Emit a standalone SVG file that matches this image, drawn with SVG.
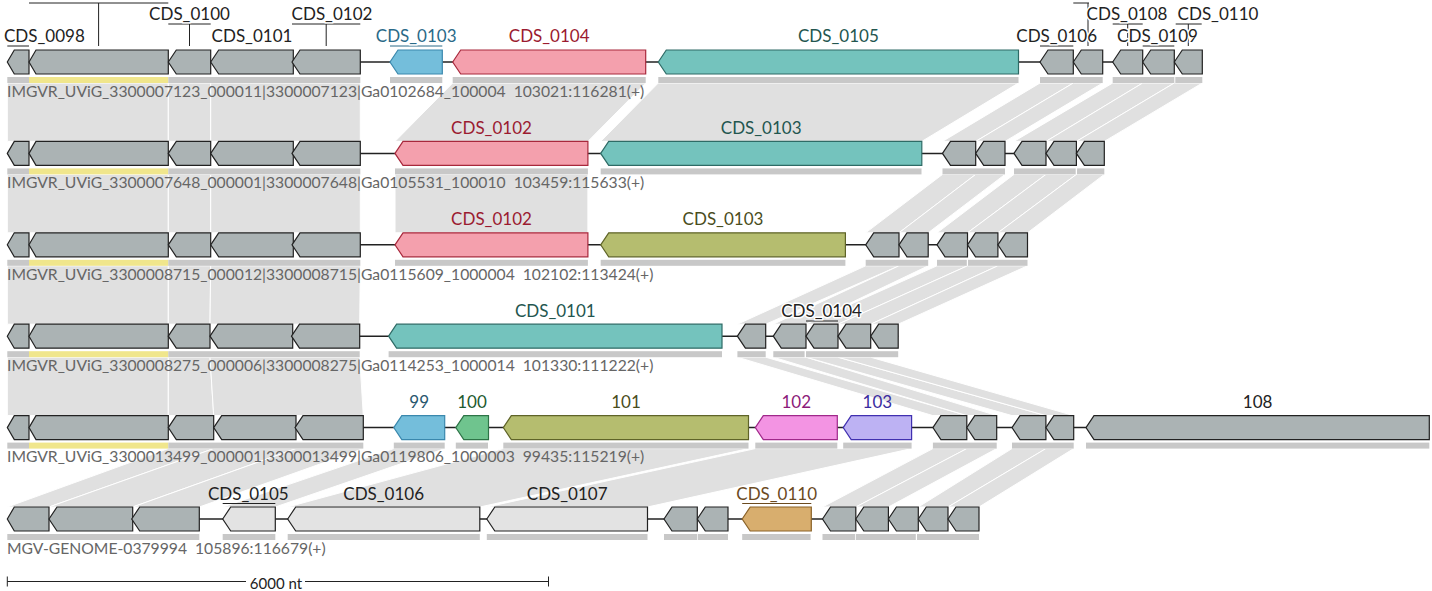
<svg xmlns="http://www.w3.org/2000/svg" width="1432" height="591" viewBox="0 0 1432 591">
<style>
.bg{fill:#fff}
.sh{fill:#e0e0e0;stroke:#fff;stroke-width:1}
.bb{stroke:#222;stroke-width:1.5;fill:none}
.g{stroke:#222;stroke-width:1.2;stroke-linejoin:miter}
.gray{fill:#abb3b4}
.lt{fill:#e3e3e3}
.blue{fill:#74bedb;stroke:#3a88ad}
.pink{fill:#f4a0ad;stroke:#a8283c}
.teal{fill:#74c3bd;stroke:#2e6b66}
.olive{fill:#b5bd6f;stroke:#5f6428}
.green{fill:#6fc48e;stroke:#2e7447}
.mag{fill:#f394e3;stroke:#a0288a}
.lav{fill:#bdb2f3;stroke:#4030b0}
.orng{fill:#d8ae6e;stroke:#8a6228}
.bar{fill:#c8c8c8}
.ybar{fill:#f0e68c}
.lab{font-family:Lato,"Noto Sans",sans-serif;font-size:17px;text-anchor:middle;paint-order:stroke;stroke:#fff;stroke-width:3px;stroke-linejoin:round}
.nh{stroke:none}
.trk{font-family:Lato,"Noto Sans",sans-serif;font-size:15.7px;fill:#666;white-space:pre}
.ln{stroke:#222;stroke-width:1;fill:none}
</style>
<rect class="bg" x="0" y="0" width="1432" height="591"/>
<g id="connectors">
<polygon class="sh" points="7.3,83 168.3,83 168.3,141.4 7.3,141.4"/>
<polygon class="sh" points="168.3,83 210.7,83 210.7,141.4 168.3,141.4"/>
<polygon class="sh" points="210.7,83 360.3,83 360.3,141.4 210.7,141.4"/>
<polygon class="sh" points="452.7,83 645.7,83 587.9,141.4 395,141.4"/>
<polygon class="sh" points="658.3,83 1018.5,83 921.8,141.4 600.7,141.4"/>
<polygon class="sh" points="1040,83 1073.3,83 975.7,141.4 942.5,141.4"/>
<polygon class="sh" points="1073.3,83 1102.7,83 1005,141.4 975.7,141.4"/>
<polygon class="sh" points="1112.7,83 1142.7,83 1046,141.4 1014,141.4"/>
<polygon class="sh" points="1142.7,83 1174.3,83 1076.4,141.4 1046,141.4"/>
<polygon class="sh" points="1174.3,83 1202.3,83 1104.3,141.4 1076.4,141.4"/>
<polygon class="sh" points="7.3,174.4 168.3,174.4 168.3,232.8 7.3,232.8"/>
<polygon class="sh" points="168.3,174.4 210.7,174.4 210.7,232.8 168.3,232.8"/>
<polygon class="sh" points="210.7,174.4 360.3,174.4 360.3,232.8 210.7,232.8"/>
<polygon class="sh" points="395,174.4 587.9,174.4 587.9,232.8 395,232.8"/>
<polygon class="sh" points="942.5,174.4 975.7,174.4 899,232.8 865.7,232.8"/>
<polygon class="sh" points="975.7,174.4 1005,174.4 928.2,232.8 899,232.8"/>
<polygon class="sh" points="1014,174.4 1046,174.4 967.5,232.8 937,232.8"/>
<polygon class="sh" points="1046,174.4 1076.4,174.4 997.9,232.8 967.5,232.8"/>
<polygon class="sh" points="1076.4,174.4 1104.3,174.4 1027.5,232.8 997.9,232.8"/>
<polygon class="sh" points="7.3,265.8 168.3,265.8 168.3,324.2 7.3,324.2"/>
<polygon class="sh" points="168.3,265.8 210.7,265.8 210,324.2 168.3,324.2"/>
<polygon class="sh" points="210.7,265.8 360.3,265.8 359.7,324.2 210,324.2"/>
<polygon class="sh" points="865.7,265.8 899,265.8 765.7,324.2 737.4,324.2"/>
<polygon class="sh" points="899,265.8 928.2,265.8 806,324.2 773.3,324.2"/>
<polygon class="sh" points="937,265.8 967.5,265.8 838,324.2 806,324.2"/>
<polygon class="sh" points="967.5,265.8 997.9,265.8 870.7,324.2 838,324.2"/>
<polygon class="sh" points="997.9,265.8 1027.5,265.8 898.2,324.2 870.7,324.2"/>
<polygon class="sh" points="7.3,357.2 168.3,357.2 168.3,415.6 7.3,415.6"/>
<polygon class="sh" points="168.3,357.2 210,357.2 213.7,415.6 168.3,415.6"/>
<polygon class="sh" points="210,357.2 359.7,357.2 363.3,415.6 213.7,415.6"/>
<polygon class="sh" points="737.4,357.2 765.7,357.2 966.8,415.6 932.9,415.6"/>
<polygon class="sh" points="773.3,357.2 806,357.2 996.7,415.6 966.8,415.6"/>
<polygon class="sh" points="806,357.2 838,357.2 1045.9,415.6 1012,415.6"/>
<polygon class="sh" points="838,357.2 870.7,357.2 1073.7,415.6 1045.9,415.6"/>
<polygon class="sh" points="168.3,448.6 213.7,448.6 49,507 7.3,507"/>
<polygon class="sh" points="213.7,448.6 296,448.6 132.7,507 49,507"/>
<polygon class="sh" points="296,448.6 363.3,448.6 199.3,507 132.7,507"/>
<polygon class="sh" points="393.8,448.6 444.7,448.6 275.3,507 222.7,507"/>
<polygon class="sh" points="503.3,448.6 748.5,448.6 479.8,507 287.7,507"/>
<polygon class="sh" points="755.3,448.6 911.6,448.6 647.5,507 486.8,507"/>
<polygon class="sh" points="932.9,448.6 966.8,448.6 855.8,507 822.5,507"/>
<polygon class="sh" points="966.8,448.6 996.7,448.6 888.4,507 855.8,507"/>
<polygon class="sh" points="1012,448.6 1045.9,448.6 948,507 918.3,507"/>
<polygon class="sh" points="1045.9,448.6 1073.7,448.6 979,507 948,507"/>
</g>

<g id="row1">
<line class="bb" x1="7.3" y1="62" x2="1202.3" y2="62"/>
<rect class="bar" x="7.3" y="77" width="21.7" height="6"/><rect class="ybar" x="29" y="77" width="139.3" height="6"/><rect class="bar" x="168.3" y="77" width="192" height="6"/>
<rect class="bar" x="390" y="77" width="52.3" height="6"/><rect class="bar" x="452.7" y="77" width="193" height="6"/><rect class="bar" x="658.3" y="77" width="360.2" height="6"/>
<rect class="bar" x="1040" y="77" width="62.7" height="6"/><rect class="bar" x="1112.7" y="77" width="61.6" height="6"/><rect class="bar" x="1175.3" y="77" width="27" height="6"/>
<g id="r1g1"><polygon class="g gray" points="7.3,62 14.3,50 29,50 29,74 14.3,74"/></g>
<g id="r1g2"><polygon class="g gray" points="29,62 36,50 168.3,50 168.3,74 36,74"/></g>
<g id="r1g3"><polygon class="g gray" points="168.3,62 176.3,50 210.7,50 210.7,74 176.3,74"/></g>
<g id="r1g4"><polygon class="g gray" points="210.7,62 218.7,50 293.3,50 293.3,74 218.7,74"/></g>
<g id="r1g5"><polygon class="g gray" points="292,62 300,50 360.3,50 360.3,74 300,74"/></g>
<g id="r1g6"><polygon class="g blue" points="390,62 398,50 442.3,50 442.3,74 398,74"/></g>
<g id="r1g7"><polygon class="g pink" points="452.7,62 460.7,50 645.7,50 645.7,74 460.7,74"/></g>
<g id="r1g8"><polygon class="g teal" points="658.3,62 666.3,50 1018.5,50 1018.5,74 666.3,74"/></g>
<g id="r1g9"><polygon class="g gray" points="1040,62 1048,50 1073.3,50 1073.3,74 1048,74"/></g>
<g id="r1g10"><polygon class="g gray" points="1073.3,62 1081.3,50 1102.7,50 1102.7,74 1081.3,74"/></g>
<g id="r1g11"><polygon class="g gray" points="1112.7,62 1120.7,50 1142.7,50 1142.7,74 1120.7,74"/></g>
<g id="r1g12"><polygon class="g gray" points="1142.7,62 1150.7,50 1174.3,50 1174.3,74 1150.7,74"/></g>
<g id="r1g13"><polygon class="g gray" points="1174.3,62 1182.3,50 1202.3,50 1202.3,74 1182.3,74"/></g>
<path class="ln" d="M7.3 46H29 M29 3H168.3 M98.6 3V46 M168.3 24H210.7 M189.5 24V46 M292 24H360.3 M326.2 24V46 M1073.3 3H1089 M1088 3V46 M1112.7 24H1142.7 M1127.7 24V46 M1175.7 24H1201.7 M1188.3 24V46"/>
<path d="M1040 46H1073.3 M1142.7 46H1174.3" stroke="#222" stroke-width="1"/>
<path d="M390 46H442.3" stroke="#2a6a88" stroke-width="1"/>
<text class="lab" x="4" y="42" fill="#222" style="text-anchor:start">CDS_0098</text>
<text class="lab" x="189.5" y="20" fill="#222">CDS_0100</text>
<text class="lab" x="252" y="42" fill="#222">CDS_0101</text>
<text class="lab" x="332" y="20" fill="#222">CDS_0102</text>
<text class="lab" x="416.2" y="42" fill="#2a6a88">CDS_0103</text>
<text class="lab" x="549.2" y="42" fill="#9b1b30">CDS_0104</text>
<text class="lab" x="838.4" y="42" fill="#23564f">CDS_0105</text>
<text class="lab" x="1056.7" y="42" fill="#222">CDS_0106</text>
<text class="lab" x="1127" y="20" fill="#222">CDS_0108</text>
<text class="lab" x="1157.5" y="42" fill="#222">CDS_0109</text>
<text class="lab" x="1218" y="20" fill="#222">CDS_0110</text>
<text class="trk" x="7" y="96.7">IMGVR_UViG_3300007123_000011|3300007123|Ga0102684_100004  103021:116281(+)</text>
</g>

<g id="row2">
<line class="bb" x1="7.3" y1="153.4" x2="1104.3" y2="153.4"/>
<rect class="bar" x="7.3" y="168.4" width="21.7" height="6"/><rect class="ybar" x="29" y="168.4" width="139.3" height="6"/><rect class="bar" x="168.3" y="168.4" width="192" height="6"/>
<rect class="bar" x="395" y="168.4" width="192.9" height="6"/><rect class="bar" x="600.7" y="168.4" width="320.8" height="6"/>
<rect class="bar" x="942.5" y="168.4" width="62.5" height="6"/><rect class="bar" x="1014" y="168.4" width="61.7" height="6"/><rect class="bar" x="1077" y="168.4" width="27.3" height="6"/>
<g id="r2g1"><polygon class="g gray" points="7.3,153.4 14.3,141.4 29,141.4 29,165.4 14.3,165.4"/></g>
<g id="r2g2"><polygon class="g gray" points="29,153.4 36,141.4 168.3,141.4 168.3,165.4 36,165.4"/></g>
<g id="r2g3"><polygon class="g gray" points="168.3,153.4 176.3,141.4 210.7,141.4 210.7,165.4 176.3,165.4"/></g>
<g id="r2g4"><polygon class="g gray" points="210.7,153.4 218.7,141.4 293.3,141.4 293.3,165.4 218.7,165.4"/></g>
<g id="r2g5"><polygon class="g gray" points="292,153.4 300,141.4 360.3,141.4 360.3,165.4 300,165.4"/></g>
<g id="r2g6"><polygon class="g pink" points="395,153.4 403,141.4 587.9,141.4 587.9,165.4 403,165.4"/></g>
<g id="r2g7"><polygon class="g teal" points="600.7,153.4 608.7,141.4 921.8,141.4 921.8,165.4 608.7,165.4"/></g>
<g id="r2g8"><polygon class="g gray" points="942.5,153.4 950.5,141.4 975.7,141.4 975.7,165.4 950.5,165.4"/></g>
<g id="r2g9"><polygon class="g gray" points="975.7,153.4 983.7,141.4 1005,141.4 1005,165.4 983.7,165.4"/></g>
<g id="r2g10"><polygon class="g gray" points="1014,153.4 1022,141.4 1046,141.4 1046,165.4 1022,165.4"/></g>
<g id="r2g11"><polygon class="g gray" points="1046,153.4 1054,141.4 1076.4,141.4 1076.4,165.4 1054,165.4"/></g>
<g id="r2g12"><polygon class="g gray" points="1076.4,153.4 1084.4,141.4 1104.3,141.4 1104.3,165.4 1084.4,165.4"/></g>
<text class="lab nh" x="491.5" y="133.9" fill="#9b1b30">CDS_0102</text>
<text class="lab nh" x="761.2" y="133.9" fill="#23564f">CDS_0103</text>
<text class="trk" x="7" y="188.1">IMGVR_UViG_3300007648_000001|3300007648|Ga0105531_100010  103459:115633(+)</text>
</g>

<g id="row3">
<line class="bb" x1="7.3" y1="244.8" x2="1027.5" y2="244.8"/>
<rect class="bar" x="7.3" y="259.8" width="21.7" height="6"/><rect class="ybar" x="29" y="259.8" width="139.3" height="6"/><rect class="bar" x="168.3" y="259.8" width="192" height="6"/>
<rect class="bar" x="395" y="259.8" width="192.9" height="6"/><rect class="bar" x="600.7" y="259.8" width="244.7" height="6"/>
<rect class="bar" x="865.7" y="259.8" width="62.5" height="6"/><rect class="bar" x="937" y="259.8" width="29.8" height="6"/><rect class="bar" x="968" y="259.8" width="59.5" height="6"/>
<g id="r3g1"><polygon class="g gray" points="7.3,244.8 14.3,232.8 29,232.8 29,256.8 14.3,256.8"/></g>
<g id="r3g2"><polygon class="g gray" points="29,244.8 36,232.8 168.3,232.8 168.3,256.8 36,256.8"/></g>
<g id="r3g3"><polygon class="g gray" points="168.3,244.8 176.3,232.8 210.7,232.8 210.7,256.8 176.3,256.8"/></g>
<g id="r3g4"><polygon class="g gray" points="210.7,244.8 218.7,232.8 293.3,232.8 293.3,256.8 218.7,256.8"/></g>
<g id="r3g5"><polygon class="g gray" points="292,244.8 300,232.8 360.3,232.8 360.3,256.8 300,256.8"/></g>
<g id="r3g6"><polygon class="g pink" points="395,244.8 403,232.8 587.9,232.8 587.9,256.8 403,256.8"/></g>
<g id="r3g7"><polygon class="g olive" points="600.7,244.8 608.7,232.8 845.4,232.8 845.4,256.8 608.7,256.8"/></g>
<g id="r3g8"><polygon class="g gray" points="865.7,244.8 873.7,232.8 899,232.8 899,256.8 873.7,256.8"/></g>
<g id="r3g9"><polygon class="g gray" points="899,244.8 907,232.8 928.2,232.8 928.2,256.8 907,256.8"/></g>
<g id="r3g10"><polygon class="g gray" points="937,244.8 945,232.8 967.5,232.8 967.5,256.8 945,256.8"/></g>
<g id="r3g11"><polygon class="g gray" points="967.5,244.8 975.5,232.8 997.9,232.8 997.9,256.8 975.5,256.8"/></g>
<g id="r3g12"><polygon class="g gray" points="997.9,244.8 1005.9,232.8 1027.5,232.8 1027.5,256.8 1005.9,256.8"/></g>
<text class="lab nh" x="491.5" y="225.3" fill="#9b1b30">CDS_0102</text>
<text class="lab nh" x="723" y="225.3" fill="#4a4d1c">CDS_0103</text>
<text class="trk" x="7" y="279.5">IMGVR_UViG_3300008715_000012|3300008715|Ga0115609_1000004  102102:113424(+)</text>
</g>

<g id="row4">
<line class="bb" x1="7.3" y1="336.2" x2="898.2" y2="336.2"/>
<rect class="bar" x="7.3" y="351.2" width="21.7" height="6"/><rect class="ybar" x="29" y="351.2" width="139.3" height="6"/><rect class="bar" x="168.3" y="351.2" width="191.4" height="6"/>
<rect class="bar" x="388.6" y="351.2" width="333.4" height="6"/><rect class="bar" x="737.4" y="351.2" width="28.3" height="6"/><rect class="bar" x="773.3" y="351.2" width="31.3" height="6"/><rect class="bar" x="806" y="351.2" width="92.2" height="6"/>
<g id="r4g1"><polygon class="g gray" points="7.3,336.2 14.3,324.2 29,324.2 29,348.2 14.3,348.2"/></g>
<g id="r4g2"><polygon class="g gray" points="29,336.2 36,324.2 168.3,324.2 168.3,348.2 36,348.2"/></g>
<g id="r4g3"><polygon class="g gray" points="168.3,336.2 176.3,324.2 210,324.2 210,348.2 176.3,348.2"/></g>
<g id="r4g4"><polygon class="g gray" points="210,336.2 218,324.2 292.7,324.2 292.7,348.2 218,348.2"/></g>
<g id="r4g5"><polygon class="g gray" points="291.5,336.2 299.5,324.2 359.7,324.2 359.7,348.2 299.5,348.2"/></g>
<g id="r4g6"><polygon class="g teal" points="388.6,336.2 396.6,324.2 722,324.2 722,348.2 396.6,348.2"/></g>
<g id="r4g7"><polygon class="g gray" points="737.4,336.2 745.4,324.2 765.7,324.2 765.7,348.2 745.4,348.2"/></g>
<g id="r4g8"><polygon class="g gray" points="773.3,336.2 781.3,324.2 806,324.2 806,348.2 781.3,348.2"/></g>
<g id="r4g9"><polygon class="g gray" points="806,336.2 814,324.2 838,324.2 838,348.2 814,348.2"/></g>
<g id="r4g10"><polygon class="g gray" points="838,336.2 846,324.2 870.7,324.2 870.7,348.2 846,348.2"/></g>
<g id="r4g11"><polygon class="g gray" points="870.7,336.2 878.7,324.2 898.2,324.2 898.2,348.2 878.7,348.2"/></g>
<path d="M806 321H838" stroke="#222" stroke-width="1"/>
<text class="lab" x="555.3" y="316.7" fill="#23564f">CDS_0101</text>
<text class="lab" x="821.6" y="316.7" fill="#222">CDS_0104</text>
<text class="trk" x="7" y="370.9">IMGVR_UViG_3300008275_000006|3300008275|Ga0114253_1000014  101330:111222(+)</text>
</g>

<g id="row5">
<line class="bb" x1="7.3" y1="427.6" x2="1429.3" y2="427.6"/>
<rect class="bar" x="7.3" y="442.6" width="21.7" height="6"/><rect class="ybar" x="29" y="442.6" width="139.3" height="6"/><rect class="bar" x="168.3" y="442.6" width="195" height="6"/>
<rect class="bar" x="393.8" y="442.6" width="50.9" height="6"/><rect class="bar" x="455.8" y="442.6" width="32.2" height="6"/><rect class="bar" x="503.3" y="442.6" width="245.2" height="6"/>
<rect class="bar" x="755.3" y="442.6" width="82" height="6"/><rect class="bar" x="843.2" y="442.6" width="68.4" height="6"/>
<rect class="bar" x="932.9" y="442.6" width="63.8" height="6"/><rect class="bar" x="1012" y="442.6" width="61.7" height="6"/><rect class="bar" x="1086" y="442.6" width="343.3" height="6"/>
<g id="r5g1"><polygon class="g gray" points="7.3,427.6 14.3,415.6 29,415.6 29,439.6 14.3,439.6"/></g>
<g id="r5g2"><polygon class="g gray" points="29,427.6 36,415.6 168.3,415.6 168.3,439.6 36,439.6"/></g>
<g id="r5g3"><polygon class="g gray" points="168.3,427.6 176.3,415.6 213.7,415.6 213.7,439.6 176.3,439.6"/></g>
<g id="r5g4"><polygon class="g gray" points="213.7,427.6 221.7,415.6 296,415.6 296,439.6 221.7,439.6"/></g>
<g id="r5g5"><polygon class="g gray" points="295,427.6 303,415.6 363.3,415.6 363.3,439.6 303,439.6"/></g>
<g id="r5g6"><polygon class="g blue" points="393.8,427.6 401.8,415.6 444.7,415.6 444.7,439.6 401.8,439.6"/></g>
<g id="r5g7"><polygon class="g green" points="455.8,427.6 463.8,415.6 488.5,415.6 488.5,439.6 463.8,439.6"/></g>
<g id="r5g8"><polygon class="g olive" points="503.3,427.6 511.3,415.6 748.5,415.6 748.5,439.6 511.3,439.6"/></g>
<g id="r5g9"><polygon class="g mag" points="755.3,427.6 763.3,415.6 837.3,415.6 837.3,439.6 763.3,439.6"/></g>
<g id="r5g10"><polygon class="g lav" points="843.2,427.6 851.2,415.6 911.6,415.6 911.6,439.6 851.2,439.6"/></g>
<g id="r5g11"><polygon class="g gray" points="932.9,427.6 940.9,415.6 966.8,415.6 966.8,439.6 940.9,439.6"/></g>
<g id="r5g12"><polygon class="g gray" points="966.8,427.6 974.8,415.6 996.7,415.6 996.7,439.6 974.8,439.6"/></g>
<g id="r5g13"><polygon class="g gray" points="1012,427.6 1020,415.6 1045.9,415.6 1045.9,439.6 1020,439.6"/></g>
<g id="r5g14"><polygon class="g gray" points="1045.9,427.6 1053.9,415.6 1073.7,415.6 1073.7,439.6 1053.9,439.6"/></g>
<g id="r5g15"><polygon class="g gray" points="1086,427.6 1094,415.6 1429.3,415.6 1429.3,439.6 1094,439.6"/></g>
<text class="lab nh" x="419.2" y="408" fill="#28566e">99</text>
<text class="lab nh" x="472" y="408" fill="#1d5a30">100</text>
<text class="lab nh" x="626" y="408" fill="#4a4d1c">101</text>
<text class="lab nh" x="796.3" y="408" fill="#8c1b7a">102</text>
<text class="lab nh" x="877.4" y="408" fill="#3a2ca0">103</text>
<text class="lab nh" x="1257.6" y="408" fill="#222">108</text>
<text class="trk" x="7" y="462.3">IMGVR_UViG_3300013499_000001|3300013499|Ga0119806_1000003  99435:115219(+)</text>
</g>

<g id="row6">
<line class="bb" x1="7.3" y1="519" x2="979" y2="519"/>
<rect class="bar" x="7.3" y="534" width="192" height="6"/><rect class="bar" x="222.7" y="534" width="52.6" height="6"/><rect class="bar" x="287.7" y="534" width="192.1" height="6"/>
<rect class="bar" x="486.8" y="534" width="160.7" height="6"/><rect class="bar" x="664" y="534" width="33.3" height="6"/><rect class="bar" x="698" y="534" width="30" height="6"/>
<rect class="bar" x="742.2" y="534" width="68.4" height="6"/><rect class="bar" x="822.5" y="534" width="32.5" height="6"/><rect class="bar" x="855.8" y="534" width="60" height="6"/><rect class="bar" x="917" y="534" width="62" height="6"/>
<g id="r6g1"><polygon class="g gray" points="7.3,519 14.3,507 49,507 49,531 14.3,531"/></g>
<g id="r6g2"><polygon class="g gray" points="49,519 57,507 132.7,507 132.7,531 57,531"/></g>
<g id="r6g3"><polygon class="g gray" points="131.7,519 139.7,507 199.3,507 199.3,531 139.7,531"/></g>
<g id="r6g4"><polygon class="g lt" points="222.7,519 230.7,507 275.3,507 275.3,531 230.7,531"/></g>
<g id="r6g5"><polygon class="g lt" points="287.7,519 295.7,507 479.8,507 479.8,531 295.7,531"/></g>
<g id="r6g6"><polygon class="g lt" points="486.8,519 494.8,507 647.5,507 647.5,531 494.8,531"/></g>
<g id="r6g7"><polygon class="g gray" points="664,519 672,507 697.3,507 697.3,531 672,531"/></g>
<g id="r6g8"><polygon class="g gray" points="697.3,519 705.3,507 728,507 728,531 705.3,531"/></g>
<g id="r6g9"><polygon class="g orng" points="742.2,519 750.2,507 811.3,507 811.3,531 750.2,531"/></g>
<g id="r6g10"><polygon class="g gray" points="822.5,519 830.5,507 855.8,507 855.8,531 830.5,531"/></g>
<g id="r6g11"><polygon class="g gray" points="855.8,519 863.8,507 888.4,507 888.4,531 863.8,531"/></g>
<g id="r6g12"><polygon class="g gray" points="888.4,519 896.4,507 918.3,507 918.3,531 896.4,531"/></g>
<g id="r6g13"><polygon class="g gray" points="918.3,519 926.3,507 948,507 948,531 926.3,531"/></g>
<g id="r6g14"><polygon class="g gray" points="948,519 956,507 979,507 979,531 956,531"/></g>
<path d="M222.7 503.5H275.3" stroke="#222" stroke-width="1"/>
<path d="M742.2 503.5H811.3" stroke="#6b4a1f" stroke-width="1"/>
<text class="lab nh" x="248.3" y="499.5" fill="#222">CDS_0105</text>
<text class="lab nh" x="383.7" y="499.5" fill="#222">CDS_0106</text>
<text class="lab nh" x="567.2" y="499.5" fill="#222">CDS_0107</text>
<text class="lab nh" x="776.7" y="499.5" fill="#6b4a1f">CDS_0110</text>
<text class="trk" x="7" y="553.7">MGV-GENOME-0379994  105896:116679(+)</text>
</g>

<g id="scale">
<path d="M7.3 581.5H246 M305 581.5H548.5 M7.3 576.5V586.5 M548.5 576.5V586.5" stroke="#222" stroke-width="1"/>
<text x="276" y="588.5" font-family="Lato, 'Noto Sans', sans-serif" font-size="15" fill="#222" text-anchor="middle">6000 nt</text>
</g>
</svg>
